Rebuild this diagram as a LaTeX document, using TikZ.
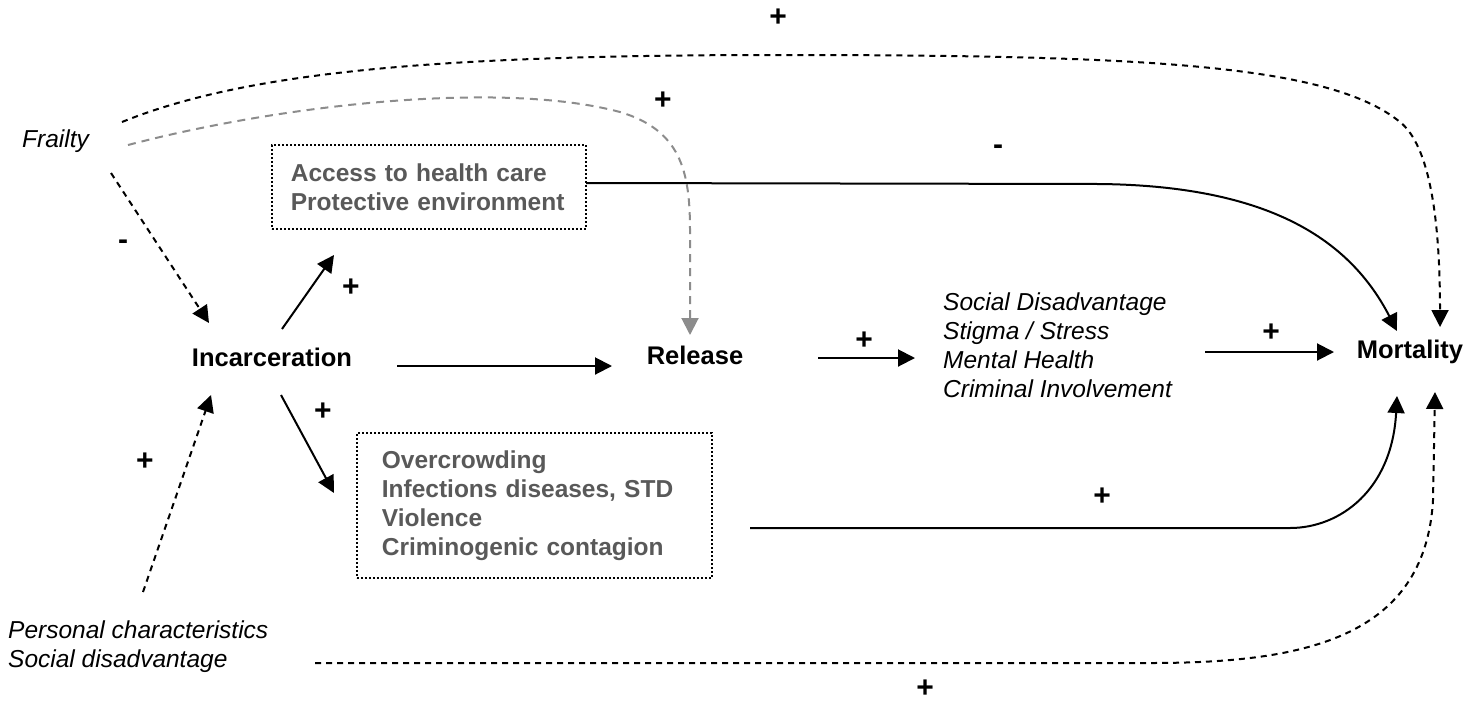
\documentclass[tikz,border=0pt]{standalone}
\usepackage{fontspec}
\setmainfont{Liberation Sans}
\usetikzlibrary{arrows.meta}
\definecolor{txtgray}{HTML}{595959}
\definecolor{lngray}{HTML}{8C8C8C}
\begin{document}
\begin{tikzpicture}[x=1pt,y=-1pt,
 lbl/.style={font=\fontsize{25.5}{29}\selectfont\bfseries, inner sep=0pt},
 itl/.style={font=\fontsize{24.5}{29}\selectfont\itshape, align=left, inner sep=0pt},
 boxtxt/.style={font=\fontsize{24.5}{29}\selectfont\bfseries, text=txtgray, align=left},
 dotbox/.style={draw, line width=1.7pt, dash pattern=on 1.7pt off 2.3pt},
 sign/.style={font=\fontsize{30}{30}\selectfont\bfseries, inner sep=0pt},
 arr/.style={line width=2pt, -{Triangle[length=17pt,width=17pt]}},
 dsh/.style={arr, dash pattern=on 6pt off 5pt},
 gdsh/.style={line width=2pt, draw=lngray, dash pattern=on 8pt off 6pt, -{Triangle[length=17pt,width=17pt,fill=lngray]}},
]
\useasboundingbox (0,0) rectangle (1472,702);
\fill[white] (0,0) rectangle (1472,702);

% nodes
\node[itl, anchor=west] (frailty) at (22,141) {Frailty};
\node[lbl] (incar) at (272,357) {Incarceration};
\node[lbl] (release) at (695,355) {Release};
\node[lbl] (mort) at (1410,352) {Mortality};
\node[itl, anchor=north west] (social) at (943,293) {Social Disadvantage\\Stigma / Stress\\Mental Health\\Criminal Involvement};
\node[itl, anchor=north west] (personal) at (8,621) {Personal characteristics\\Social disadvantage};
\node[dotbox, boxtxt, anchor=north west, text width=276pt, inner xsep=19pt, inner ysep=0pt, minimum height=84pt] (access) at (271,144) {Access to health care\\Protective environment};
\node[dotbox, boxtxt, anchor=north west, text width=305pt, inner xsep=25pt, inner ysep=0pt, minimum height=145pt] (overc) at (356,432) {Overcrowding\\Infections diseases, STD\\Violence\\Criminogenic contagion};

% endpoints
\coordinate (frA) at (122,122);
\coordinate (frB) at (128,145);
\coordinate (frC) at (111,173);
\coordinate (inN) at (209,323);
\coordinate (inNE) at (282,329);
\coordinate (acS) at (334,255);
\coordinate (inE) at (397,366);
\coordinate (reW) at (612,366);
\coordinate (reN) at (690,335);
\coordinate (reE) at (818,358);
\coordinate (soW) at (915,358);
\coordinate (soE) at (1205,352);
\coordinate (moW) at (1334,352);
\coordinate (moN1) at (1397,331);
\coordinate (moN2) at (1440,327);
\coordinate (moS1) at (1397,396);
\coordinate (moS2) at (1435,392);
\coordinate (acE) at (586,183);
\coordinate (ovE) at (750,528);
\coordinate (inS) at (211,395);
\coordinate (inSE) at (281,395);
\coordinate (ovW) at (334,493);
\coordinate (peN) at (143,592);
\coordinate (peE) at (315,663);

% connectors
\draw[dsh] (frA) .. controls (250,70) and (450,55) .. (780,55)
  .. controls (1150,55) and (1330,65) .. (1400,122)
  .. controls (1430,146) and (1440,220) .. (moN2);
\draw[gdsh] (frB) .. controls (280,105) and (500,80) .. (620,112)
  .. controls (680,130) and (690,170) .. (690,230) -- (reN);
\draw[dsh] (frC) -- (inN);
\draw[arr] (inNE) -- (acS);
\draw[arr] (inE) -- (reW);
\draw[arr] (reE) -- (soW);
\draw[arr] (soE) -- (moW);
\draw[arr] (acE) -- (1100,184) .. controls (1270,186) and (1350,240) .. (moN1);
\draw[arr] (ovE) -- (1290,528) .. controls (1340,528) and (1392,490) .. (moS1);
\draw[dsh] (peE) -- (1150,663) .. controls (1300,663) and (1425,640) .. (1433,500) -- (moS2);
\draw[dsh] (peN) -- (inS);
\draw[arr] (inSE) -- (ovW);

% signs
\node[sign] (s1) at (778,18) {+};
\node[sign] (s2) at (663,101) {+};
\node[sign] (s3) at (998,150) {-};
\node[sign] (s4) at (123,245) {-};
\node[sign] (s5) at (351,288) {+};
\node[sign] (s6) at (864,341) {+};
\node[sign] (s7) at (1271,333) {+};
\node[sign] (s8) at (323,412) {+};
\node[sign] (s9) at (145,462) {+};
\node[sign] (s10) at (1102,497) {+};
\node[sign] (s11) at (925,689) {+};
\end{tikzpicture}
\end{document}
